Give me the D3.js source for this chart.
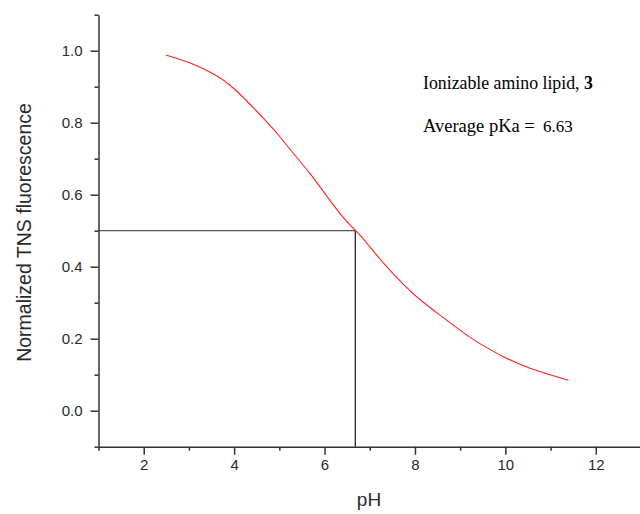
<!DOCTYPE html>
<html>
<head>
<meta charset="utf-8">
<script src="https://cdn.jsdelivr.net/npm/d3@7"></script>
<style>
  html, body { margin: 0; padding: 0; background: #fff; }
  svg { display: block; }
</style>
</head>
<body>
<svg id="chart" width="640" height="514"></svg>
<script>
// ---- data ----
const pH = [2.49, 3.02, 3.53, 3.95, 4.75, 4.95, 5.30, 5.68, 6.06, 6.41, 6.69, 6.83, 7.33, 7.71, 8.11, 8.55, 9.22, 9.55, 9.94, 10.43, 10.92, 11.38];
const fluorescence = [0.988, 0.968, 0.938, 0.905, 0.799, 0.771, 0.716, 0.660, 0.594, 0.535, 0.500, 0.482, 0.405, 0.355, 0.307, 0.266, 0.202, 0.178, 0.150, 0.122, 0.102, 0.085];
const xMajorTicks = [2, 4, 6, 8, 10, 12];
const xMinorTicks = [1, 3, 5, 7, 9, 11, 13];
const yMajorTicks = [0.0, 0.2, 0.4, 0.6, 0.8, 1.0];
const yMinorTicks = [-0.1, 0.1, 0.3, 0.5, 0.7, 0.9, 1.1];
const halfPoint = 0.5;       // normalized fluorescence at pKa
const pKaLine = 6.68;        // where the drop line is drawn
const titleLine = "Ionizable amino lipid, ";
const titleBold = "3";
const pKaLabel = "Average pKa =";
const pKaValue = "6.63";
const xTitle = "pH";
const yTitle = "Normalized TNS fluorescence";

// ---- drawing ----
const svg = d3.select("#chart");
const x = d3.scaleLinear().domain([1, 13]).range([98.5, 641]);
const y = d3.scaleLinear().domain([-0.1, 1.1]).range([446.7, 14.7]);
const axisColor = "#333";

// reference lines
svg.append("line")
  .attr("x1", x(1)).attr("x2", x(pKaLine))
  .attr("y1", y(halfPoint)).attr("y2", y(halfPoint))
  .attr("stroke", "#555").attr("stroke-width", 1.2);
svg.append("line")
  .attr("x1", x(pKaLine)).attr("x2", x(pKaLine))
  .attr("y1", y(halfPoint)).attr("y2", y(-0.1))
  .attr("stroke", "#111").attr("stroke-width", 1.2);

// curve
const pts = pH.map((v, i) => [v, fluorescence[i]]);
svg.append("path")
  .datum(pts)
  .attr("fill", "none")
  .attr("stroke", "#ff2020")
  .attr("stroke-width", 1.1)
  .attr("d", d3.line().x(d => x(d[0])).y(d => y(d[1])).curve(d3.curveBasis));

function styleAxis(g) {
  g.selectAll("path.domain").attr("stroke", axisColor).attr("stroke-width", 1.5);
  g.selectAll(".tick line").attr("stroke", axisColor).attr("stroke-width", 1.5);
  g.selectAll(".tick text").attr("fill", "#2a2a2a")
    .style("font-family", "'Liberation Sans', Arial, sans-serif")
    .style("font-size", "15px");
}

// x axis
const gx = svg.append("g").attr("transform", `translate(0,${y(-0.1)})`);
gx.call(d3.axisBottom(x).tickValues(xMajorTicks).tickSize(8).tickSizeOuter(0).tickPadding(5).tickFormat(d3.format("d")));
styleAxis(gx);
const gx2 = svg.append("g").attr("transform", `translate(0,${y(-0.1)})`);
gx2.call(d3.axisBottom(x).tickValues(xMinorTicks).tickSize(4).tickSizeOuter(0).tickFormat(""));
styleAxis(gx2);
gx2.select("path.domain").remove();

// y axis
const gy = svg.append("g").attr("transform", `translate(${x(1)},0)`);
gy.call(d3.axisLeft(y).tickValues(yMajorTicks).tickSize(8).tickSizeOuter(0).tickPadding(8).tickFormat(d3.format(".1f")));
styleAxis(gy);
const gy2 = svg.append("g").attr("transform", `translate(${x(1)},0)`);
gy2.call(d3.axisLeft(y).tickValues(yMinorTicks).tickSize(4).tickSizeOuter(0).tickFormat(""));
styleAxis(gy2);
gy2.select("path.domain").remove();

// axis titles
svg.append("text")
  .attr("x", 369).attr("y", 506)
  .attr("text-anchor", "middle")
  .attr("fill", "#2a2a2a")
  .style("font-family", "'Liberation Sans', Arial, sans-serif")
  .style("font-size", "19px")
  .text(xTitle);
svg.append("text")
  .attr("transform", "translate(31,232.5) rotate(-90)")
  .attr("text-anchor", "middle")
  .attr("fill", "#2a2a2a")
  .style("font-family", "'Liberation Sans', Arial, sans-serif")
  .style("font-size", "19.5px")
  .text(yTitle);

// annotations
const t1 = svg.append("text")
  .attr("x", 423).attr("y", 89)
  .attr("fill", "#000")
  .style("font-family", "'Liberation Serif', 'Times New Roman', serif")
  .style("font-size", "17.8px");
t1.append("tspan").text(titleLine);
t1.append("tspan").attr("font-weight", "bold").text(titleBold);

svg.append("text")
  .attr("x", 423).attr("y", 131.5)
  .attr("fill", "#000")
  .style("font-family", "'Liberation Serif', 'Times New Roman', serif")
  .style("font-size", "18.5px")
  .text(pKaLabel);
svg.append("text")
  .attr("x", 543).attr("y", 131.5)
  .attr("fill", "#000")
  .style("font-family", "'Liberation Serif', 'Times New Roman', serif")
  .style("font-size", "17px")
  .text(pKaValue);
</script>
</body>
</html>
